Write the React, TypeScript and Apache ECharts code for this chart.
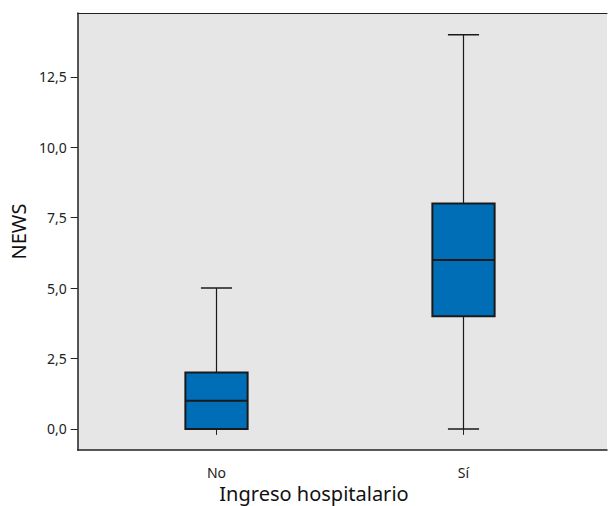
import React, { useEffect, useRef } from "react";
import * as echarts from "echarts";

const categories = ["No", "Sí"];
const mins = [0, 0];
const q1s = [0, 4];
const medians = [1, 6];
const q3s = [2, 8];
const maxs = [5, 14];
const yTicks = [0, 2.5, 5, 7.5, 10, 12.5];

const FONT = "Noto Sans";

export default function App() {
  const ref = useRef<HTMLDivElement>(null);
  useEffect(() => {
    if (!ref.current) return;
    const chart = echarts.init(ref.current, null, { renderer: "svg" });
    const data = categories.map((c, i) => [i, mins[i], q1s[i], medians[i], q3s[i], maxs[i]]);
    const yMin = -0.75;
    const yMax = 14.77;
    chart.setOption({
      animation: false,
      grid: [
        { left: 66, top: 13, width: 541, height: 437, show: true, backgroundColor: "#e6e6e6", borderWidth: 0 },
        { left: 93, top: 13, width: 494, height: 437 },
      ],
      xAxis: [
        { type: "value", gridIndex: 0, min: 0, max: 1, position: "bottom", axisLine: { show: true, onZero: false, lineStyle: { color: "#222", width: 1.5 } }, axisTick: { show: false }, axisLabel: { show: false }, splitLine: { show: false } },
        {
          type: "category", gridIndex: 1, data: categories,
          axisLine: { show: false },
          axisTick: { show: true, alignWithLabel: true, length: 6, lineStyle: { color: "#222", width: 1 } },
          axisLabel: { margin: 15, fontSize: 14, color: "#222", fontFamily: FONT },
          splitLine: { show: false },
        },
        { type: "value", gridIndex: 0, min: 0, max: 1, position: "top", axisLine: { show: true, onZero: false, lineStyle: { color: "#222", width: 1.2 } }, axisTick: { show: false }, axisLabel: { show: false }, splitLine: { show: false } },
      ],
      yAxis: [
        {
          type: "value", gridIndex: 0, min: yMin, max: yMax,
          name: "NEWS", nameLocation: "middle", nameRotate: 90, nameGap: 43,
          nameTextStyle: { fontSize: 20, color: "#111", fontFamily: FONT },
          axisLine: { show: true, lineStyle: { color: "#222", width: 1.5 } },
          axisTick: { show: true, length: 7, customValues: yTicks, lineStyle: { color: "#222" } },
          axisLabel: {
            margin: 11, fontSize: 14, color: "#222", fontFamily: FONT, customValues: yTicks,
            formatter: (v: number) => v.toFixed(1).replace(".", ","),
          },
          splitLine: { show: false },
        },
        { type: "value", gridIndex: 1, min: yMin, max: yMax, show: false, splitLine: { show: false } },
      ],
      graphic: [
        { type: "text", style: { text: "Ingreso hospitalario", x: 314, y: 483, textAlign: "center", fontSize: 20, fill: "#111", fontFamily: FONT } },
      ],
      series: [
        {
          type: "custom",
          xAxisIndex: 1,
          yAxisIndex: 1,
          data,
          encode: { x: 0, y: [1, 2, 3, 4, 5] },
          renderItem: (params: any, api: any) => {
            const idx = api.value(0);
            const pMin = api.coord([idx, api.value(1)]);
            const pQ1 = api.coord([idx, api.value(2)]);
            const pMed = api.coord([idx, api.value(3)]);
            const pQ3 = api.coord([idx, api.value(4)]);
            const pMax = api.coord([idx, api.value(5)]);
            const band = api.size([1, 0])[0];
            const bw = band * 0.252;
            const cw = bw / 2;
            const cx = pMed[0];
            const lineStyle = { stroke: "#1a1a1a", lineWidth: 1.2 };
            return {
              type: "group",
              children: [
                { type: "line", shape: { x1: cx, y1: pQ3[1], x2: cx, y2: pMax[1] }, style: lineStyle },
                { type: "line", shape: { x1: cx, y1: pMin[1], x2: cx, y2: pQ1[1] }, style: lineStyle },
                { type: "line", shape: { x1: cx - cw / 2, y1: pMax[1], x2: cx + cw / 2, y2: pMax[1] }, style: { stroke: "#1a1a1a", lineWidth: 1.5 } },
                { type: "line", shape: { x1: cx - cw / 2, y1: pMin[1], x2: cx + cw / 2, y2: pMin[1] }, style: { stroke: "#1a1a1a", lineWidth: 1.5 } },
                { type: "rect", shape: { x: cx - bw / 2, y: pQ3[1], width: bw, height: pQ1[1] - pQ3[1] }, style: { fill: "#006eb6", stroke: "#1a1a1a", lineWidth: 2 } },
                { type: "line", shape: { x1: cx - bw / 2, y1: pMed[1], x2: cx + bw / 2, y2: pMed[1] }, style: { stroke: "#1a1a1a", lineWidth: 2 } },
              ],
            };
          },
        },
      ],
    });
    return () => chart.dispose();
  }, []);
  return (
    <div style={{ position: "absolute", left: 0, top: 0, width: 609, height: 506, overflow: "hidden" }}>
      <div ref={ref} style={{ width: 609, height: 506 }} />
    </div>
  );
}
